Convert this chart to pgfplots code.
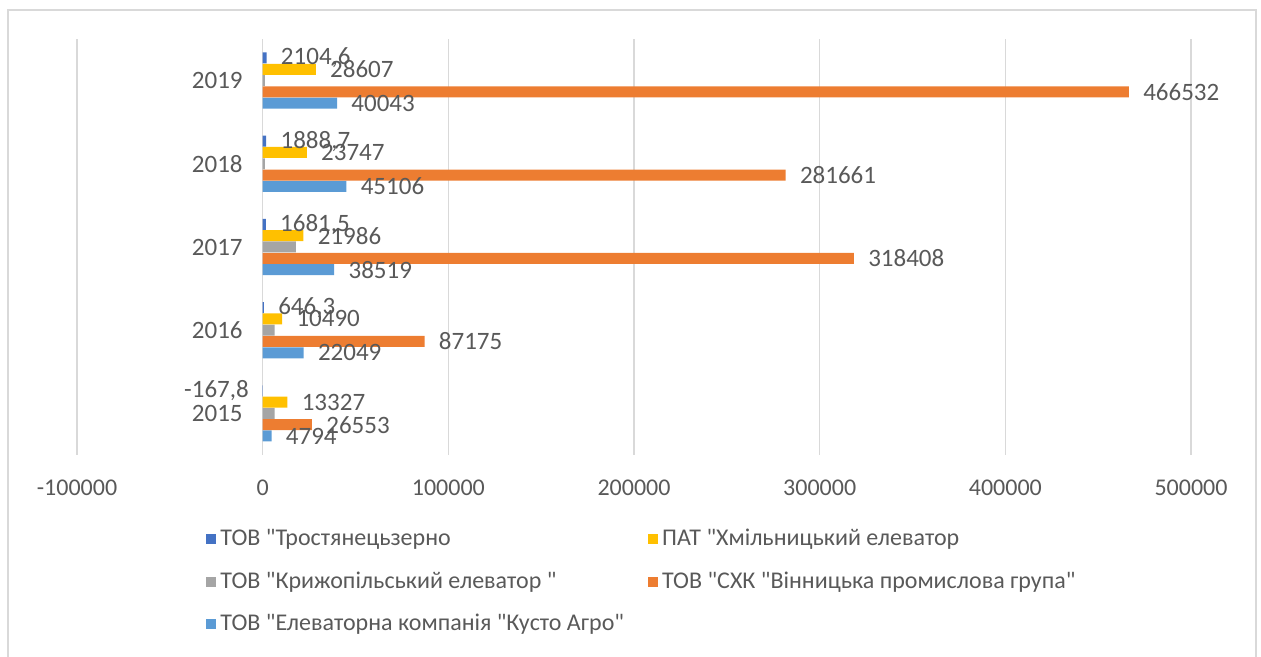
\documentclass[border=0pt]{standalone}
\usepackage{pgfplots}
\usepackage{pgfplotstable}
\usepackage{fontspec}
\setmainfont{Carlito}[Ligatures=TeXOff]
\pgfplotsset{compat=1.18}

\definecolor{cTros}{HTML}{4472C4}
\definecolor{cKhm}{HTML}{FFC000}
\definecolor{cKryz}{HTML}{A5A5A5}
\definecolor{cSkh}{HTML}{ED7D31}
\definecolor{cKusto}{HTML}{5B9BD5}
\definecolor{txt}{HTML}{595959}
\definecolor{gridc}{HTML}{D9D9D9}

\newcommand\q{\symbol{34}}
% negative labels go to the left of the bar end
\def\lab#1#2\relax{\ifx-#1\hbox to 0pt{\hss#1#2\hskip14pt}\else#1#2\fi}

% values per year; grey series has no labels in the original
\pgfplotstableread{
year tros   trosl  khm   kryz  skh    kusto
2015 -167.8 -167,8 13327 6500  26553  4794
2016 646.3  646,3  10490 6500  87175  22049
2017 1681.5 1681,5 21986 17900 318408 38519
2018 1888.7 1888,7 23747 1200  281661 45106
2019 2104.6 2104,6 28607 1200  466532 40043
}\data

\begin{document}
\begin{tikzpicture}
\useasboundingbox (0,0) rectangle (630.5pt,328.5pt);
\draw[gridc, line width=0.75pt] (4pt,-2pt) -- (4pt,323.5pt) -- (628pt,323.5pt) -- (628pt,-2pt);
\begin{axis}[
  at={(38.5pt,101pt)}, anchor=south west,
  scale only axis, width=557pt, height=208pt,
  xbar=0.15pt, bar width=5.5pt,
  xmin=-100000, xmax=500000,
  ymin=2014.5, ymax=2019.5,
  scaled x ticks=false,
  xtick={-100000,0,100000,200000,300000,400000,500000},
  xticklabels={-100000,0,100000,200000,300000,400000,500000},
  ytick={2015,2016,2017,2018,2019},
  yticklabels={2015,2016,2017,2018,2019},
  xmajorgrids, major grid style={gridc, line width=0.75pt},
  axis line style={draw=none},
  major tick length=0pt,
  tick label style={text=txt},
  xticklabel style={font=\fontsize{12}{14}\selectfont, anchor=north, yshift=-9pt},
  yticklabel style={font=\fontsize{12.5}{14}\selectfont, inner sep=0pt, anchor=east, xshift=83pt},
  nodes near coords={\expandafter\lab\pgfplotspointmeta\relax},
  point meta=explicit symbolic,
  nodes near coords style={font=\fontsize{12.5}{14}\selectfont, text=txt,
    inner ysep=0pt, inner xsep=7pt, anchor=west},
  legend columns=2,
  reverse legend,
  legend cell align=left,
  legend style={draw=none, fill=none, at={(0,0)}, anchor=north west,
    xshift=61.5pt, yshift=-33pt, font=\fontsize{12}{14}\selectfont, text=txt,
    row sep=7.5pt, /tikz/every even column/.append style={column sep=10pt}},
  legend image code/.code={\fill[#1,draw=none] (0pt,-2.5pt) rectangle (5pt,2.5pt);},
]
\addplot[fill=cKusto, draw=none] table[x=kusto, y=year, meta=kusto] {\data};
\addplot[fill=cSkh, draw=none] table[x=skh, y=year, meta=skh] {\data};
\addplot[fill=cKryz, draw=none, nodes near coords={}] table[x=kryz, y=year, meta=kryz] {\data};
\addplot[fill=cKhm, draw=none] table[x=khm, y=year, meta=khm] {\data};
\addplot[fill=cTros, draw=none] table[x=tros, y=year, meta=trosl] {\data};
\legend{ТОВ \q Елеваторна компанія \q Кусто Агро\q,
  ТОВ \q СХК \q Вінницька промислова група\q,
  ТОВ \q Крижопільський елеватор \q,
  ПАТ \q Хмільницький елеватор,
  ТОВ \q Тростянецьзерно}
\end{axis}
\end{tikzpicture}
\end{document}
